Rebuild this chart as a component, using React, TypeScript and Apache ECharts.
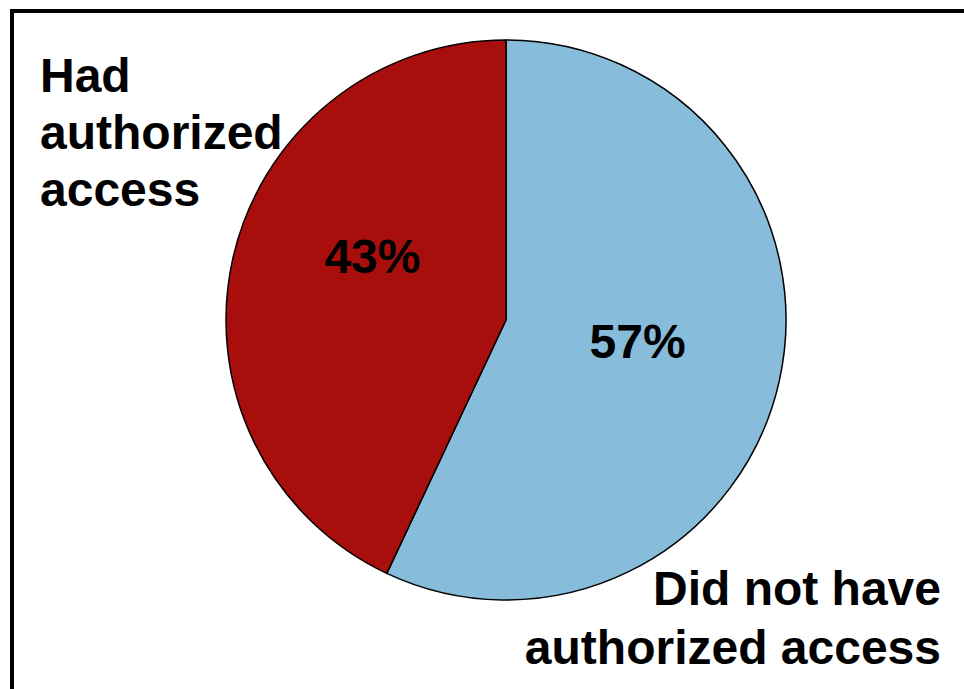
import React, { useEffect, useRef } from "react";
import * as echarts from "echarts";

const categories = ["Did not have authorized access", "Had authorized access"];
const displayNames = ["Did not have\nauthorized access", "Had\nauthorized\naccess"];
const values = [57, 43];
const colors = ["#87BCDA", "#A80E0B"];

const FONT = "Liberation Sans, Arial, Helvetica, sans-serif";

export default function App() {
  const ref = useRef<HTMLDivElement>(null);
  useEffect(() => {
    if (!ref.current) return;
    const chart = echarts.init(ref.current, null, { renderer: "svg" });
    const labelShift = [
      { dx: -8, dy: -10 },
      { dx: 6, dy: -32 },
    ];
    chart.setOption({
      animation: false,
      backgroundColor: "#ffffff",
      graphic: [
        {
          type: "rect",
          shape: { x: 12, y: 11, width: 2000, height: 2000 },
          style: { fill: "none", stroke: "#000", lineWidth: 4 },
          silent: true,
        },
        {
          type: "text",
          x: 40,
          y: 47,
          style: {
            text: displayNames[1],
            font: `bold 48px ${FONT}`,
            fill: "#000",
            lineHeight: 57,
            align: "left",
            verticalAlign: "top",
          },
        },
        {
          type: "text",
          x: 941,
          y: 559,
          style: {
            text: displayNames[0],
            font: `bold 48px ${FONT}`,
            fill: "#000",
            lineHeight: 59,
            align: "right",
            verticalAlign: "top",
          },
        },
      ],
      series: [
        {
          type: "pie",
          center: [506, 320],
          radius: [0, 280],
          startAngle: 90,
          clockwise: true,
          avoidLabelOverlap: false,
          itemStyle: { borderColor: "#000", borderWidth: 1.5 },
          label: {
            show: true,
            position: "inside",
            formatter: "{c}%",
            color: "#000",
            fontSize: 48,
            fontWeight: "bold",
            fontFamily: FONT,
          },
          labelLine: { show: false },
          labelLayout: (params: any) => labelShift[params.dataIndex] || {},
          emphasis: { disabled: true },
          data: categories.map((name, i) => ({
            name,
            value: values[i],
            itemStyle: { color: colors[i] },
          })),
        },
      ],
    });
    return () => chart.dispose();
  }, []);
  return (
    <div
      ref={ref}
      style={{ position: "fixed", left: 0, top: 0, width: 964, height: 689 }}
    />
  );
}
